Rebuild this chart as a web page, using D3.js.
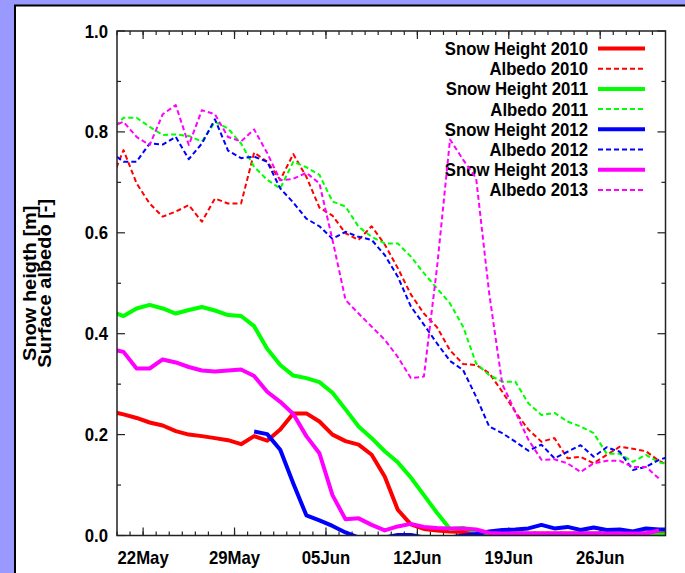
<!DOCTYPE html>
<meta charset="utf-8">
<title>Snow height and albedo 2010-2013</title>
<style>
  body { margin: 0; background: #9999ff; }
  svg { display: block; }
  text {
    font-family: "Liberation Sans", Arial, Helvetica, sans-serif;
    font-weight: bold;
    fill: #000;
  }
  .frame { fill: none; stroke: #222; stroke-width: 1.5; }
  .tick { stroke: #222; stroke-width: 1.2; }
  .series { fill: none; stroke-linejoin: round; }
</style>
<body>
<script src="https://cdn.jsdelivr.net/npm/d3@7"></script>
<script>
// one value per day (noon), first value is 19 May, last is 1 July
var firstDay = "2013-05-19T12:00";

var snow2010 = [0.246, 0.240, 0.233, 0.224, 0.218, 0.207, 0.200, 0.197, 0.193, 0.189, 0.181,
  0.197, 0.188, 0.210, 0.242, 0.242, 0.226, 0.200, 0.187, 0.180, 0.160, 0.117, 0.051, 0.022,
  0.013, 0.010, 0.008, 0.007, 0.006, 0.005, 0.004, 0.004, 0.004, 0.004, 0.004, 0.004, 0.004,
  0.004, 0.004, 0.004, 0.004, 0.004, 0.004, 0.004];
var albedo2010 = [0.700, 0.764, 0.698, 0.658, 0.632, 0.642, 0.655, 0.622, 0.668, 0.658, 0.658,
  0.759, 0.741, 0.705, 0.756, 0.711, 0.650, 0.634, 0.599, 0.586, 0.613, 0.577, 0.530, 0.478,
  0.440, 0.413, 0.367, 0.340, 0.338, 0.322, 0.285, 0.245, 0.210, 0.186, 0.193, 0.153, 0.156,
  0.143, 0.160, 0.176, 0.172, 0.167, 0.148, 0.135];
var snow2011 = [0.445, 0.435, 0.450, 0.457, 0.450, 0.440, 0.447, 0.453, 0.446, 0.437, 0.435,
  0.415, 0.370, 0.338, 0.317, 0.312, 0.304, 0.283, 0.250, 0.216, 0.193, 0.167, 0.145, 0.115,
  0.080, 0.045, 0.013, 0.015, 0.008, 0.004, 0.002, 0.002, 0.002, 0.002, 0.002, 0.002, 0.002,
  0.002, 0.002, 0.002, 0.002, 0.002, 0.002, 0.002];
var albedo2011 = [0.800, 0.828, 0.828, 0.810, 0.794, 0.795, 0.792, 0.781, 0.820, 0.807, 0.777,
  0.731, 0.705, 0.688, 0.741, 0.730, 0.715, 0.662, 0.652, 0.612, 0.592, 0.579, 0.579, 0.553,
  0.520, 0.490, 0.460, 0.414, 0.341, 0.318, 0.305, 0.305, 0.262, 0.239, 0.243, 0.226, 0.216,
  0.203, 0.162, 0.162, 0.146, 0.160, 0.145, 0.140];
var snow2012 = [null, null, null, null, null, null, null, null, null, null, null,
  0.206, 0.201, 0.170, 0.103, 0.040, 0.030, 0.019, 0.006, -0.004, -0.004, -0.004, 0.001, 0.001,
  -0.004, -0.004, -0.004, 0.000, 0.003, 0.008, 0.011, 0.012, 0.014, 0.021, 0.014, 0.017, 0.011,
  0.016, 0.011, 0.012, 0.008, 0.014, 0.012, 0.012];
var albedo2012 = [0.760, 0.741, 0.741, 0.777, 0.775, 0.790, 0.746, 0.777, 0.825, 0.763, 0.748,
  0.751, 0.741, 0.688, 0.660, 0.628, 0.613, 0.588, 0.602, 0.592, 0.586, 0.556, 0.513, 0.454,
  0.418, 0.381, 0.346, 0.328, 0.275, 0.216, 0.203, 0.186, 0.168, 0.180, 0.153, 0.166, 0.179,
  0.156, 0.175, 0.166, 0.130, 0.136, 0.150, 0.158];
var snow2013 = [0.370, 0.364, 0.331, 0.331, 0.349, 0.343, 0.334, 0.327, 0.325, 0.327, 0.329,
  0.316, 0.285, 0.265, 0.241, 0.197, 0.163, 0.080, 0.032, 0.034, 0.021, 0.010, 0.018, 0.023,
  0.017, 0.015, 0.014, 0.014, 0.012, 0.005, 0.004, 0.004, 0.004, 0.004, 0.004, 0.004, 0.004,
  0.004, 0.004, 0.004, 0.004, 0.004, 0.010, null];
var albedo2013 = [0.810, 0.820, 0.790, 0.774, 0.835, 0.853, 0.774, 0.843, 0.835, 0.790, 0.781,
  0.805, 0.758, 0.704, 0.707, 0.719, 0.698, 0.586, 0.467, 0.440, 0.414, 0.388, 0.354, 0.312,
  0.315, 0.530, 0.785, 0.745, 0.708, 0.480, 0.300, 0.245, 0.190, 0.150, 0.151, 0.143, 0.126,
  0.143, 0.148, 0.148, 0.136, 0.136, 0.113, null];

var seriesNames = ["Snow Height 2010", "Albedo 2010", "Snow Height 2011", "Albedo 2011",
  "Snow Height 2012", "Albedo 2012", "Snow Height 2013", "Albedo 2013"];
var seriesValues = [snow2010, albedo2010, snow2011, albedo2011, snow2012, albedo2012, snow2013, albedo2013];
var seriesColors = ["#ff0000", "#ff0000", "#00ff00", "#00ff00", "#0000ff", "#0000ff", "#ff00ff", "#ff00ff"];

var xTickLabels = ["22May", "29May", "05Jun", "12Jun", "19Jun", "26Jun"];
var xDomain = ["2013-05-20", "2013-07-01"];
var yTicks = [0.0, 0.2, 0.4, 0.6, 0.8, 1.0];
var yTitle = ["Snow heigth [m]", "Surface albedo [-]"];

var W = 685, H = 573;
var plot = {left: 117, right: 665.5, top: 31, bottom: 535.5};
var squeeze = 0.93;   // the original lettering is a bit narrow

var svg = d3.select("body").append("svg")
    .attr("width", W)
    .attr("height", H);

// white panel with black border
svg.append("rect")
    .attr("x", 15).attr("y", 5.5)
    .attr("width", W + 20).attr("height", H + 20)
    .attr("fill", "#fff")
    .attr("stroke", "#000")
    .attr("stroke-width", 2);

var parseDay = d3.timeParse("%Y-%m-%d");
var x = d3.scaleTime()
    .domain(xDomain.map(parseDay))
    .range([plot.left, plot.right]);
var y = d3.scaleLinear()
    .domain([0, 1])
    .range([plot.bottom, plot.top]);

function label(g, tx, ty, str, anchor, size) {
  return g.append("text")
      .attr("transform", "translate(" + tx + "," + ty + ") scale(" + squeeze + ",1)")
      .attr("text-anchor", anchor)
      .style("font-size", (size || 18) + "px")
      .text(str);
}

var axes = svg.append("g");

// x ticks: one small tick per day, a longer one each week
var minor = d3.timeDay.range(x.domain()[0], x.domain()[1]);
var parseTick = d3.timeParse("%d%b%Y");
var major = xTickLabels.map(function(s) { return parseTick(s + "2013"); });

minor.forEach(function(d) {
  var len = 4;
  axes.append("line").attr("class", "tick")
      .attr("x1", x(d)).attr("x2", x(d))
      .attr("y1", plot.bottom).attr("y2", plot.bottom - len);
  axes.append("line").attr("class", "tick")
      .attr("x1", x(d)).attr("x2", x(d))
      .attr("y1", plot.top).attr("y2", plot.top + len);
});
major.forEach(function(d, i) {
  axes.append("line").attr("class", "tick")
      .attr("x1", x(d)).attr("x2", x(d))
      .attr("y1", plot.bottom).attr("y2", plot.bottom - 8);
  axes.append("line").attr("class", "tick")
      .attr("x1", x(d)).attr("x2", x(d))
      .attr("y1", plot.top).attr("y2", plot.top + 8);
  label(axes, x(d), 564, xTickLabels[i], "middle");
});

// y ticks
d3.range(0, 1.0001, 0.1).forEach(function(v, i) {
  var len = i % 2 === 0 ? 8 : 4;
  axes.append("line").attr("class", "tick")
      .attr("x1", plot.left).attr("x2", plot.left + len)
      .attr("y1", y(v)).attr("y2", y(v));
  axes.append("line").attr("class", "tick")
      .attr("x1", plot.right).attr("x2", plot.right - len)
      .attr("y1", y(v)).attr("y2", y(v));
});
yTicks.forEach(function(v) {
  label(axes, 108, y(v) + 6.5, d3.format(".1f")(v), "end");
});

// y axis title, two rotated lines
yTitle.forEach(function(s, i) {
  axes.append("text")
      .attr("transform", "translate(" + (35.5 + i * 15.5) + "," + ((plot.top + plot.bottom) / 2) +
            ") scale(" + squeeze + ",1) rotate(-90)")
      .attr("text-anchor", "middle")
      .style("font-size", "20px")
      .text(s);
});

// legend (drawn before the curves, the curves pass over it)
var legend = svg.append("g");
seriesNames.forEach(function(name, i) {
  var ly = 48.5 + i * 20.2;
  label(legend, 588, ly + 6.5, name, "end");
  legend.append("line")
      .attr("x1", 598).attr("x2", 645)
      .attr("y1", ly).attr("y2", ly)
      .attr("stroke", seriesColors[i])
      .attr("stroke-width", i % 2 === 0 ? 4 : 2)
      .attr("stroke-dasharray", i % 2 === 0 ? null : "5,3");
});

// curves
svg.append("clipPath").attr("id", "clip")
  .append("rect")
    .attr("x", plot.left).attr("y", plot.top)
    .attr("width", plot.right - plot.left).attr("height", plot.bottom - plot.top);

var t0 = d3.isoParse(firstDay + ":00");
var line = d3.line()
    .defined(function(d) { return d.v !== null; })
    .x(function(d) { return x(d.t); })
    .y(function(d) { return y(d.v); });

var curves = svg.append("g").attr("clip-path", "url(#clip)");
seriesValues.forEach(function(vals, i) {
  var pts = vals.map(function(v, k) {
    return {t: d3.timeDay.offset(t0, k), v: v};
  });
  curves.append("path")
      .datum(pts)
      .attr("class", "series")
      .attr("d", line)
      .attr("stroke", seriesColors[i])
      .attr("stroke-width", i % 2 === 0 ? 4 : 2)
      .attr("stroke-dasharray", i % 2 === 0 ? null : "5,3");
});

// frame on top
svg.append("rect").attr("class", "frame")
    .attr("x", plot.left).attr("y", plot.top)
    .attr("width", plot.right - plot.left).attr("height", plot.bottom - plot.top);
</script>
</body>
